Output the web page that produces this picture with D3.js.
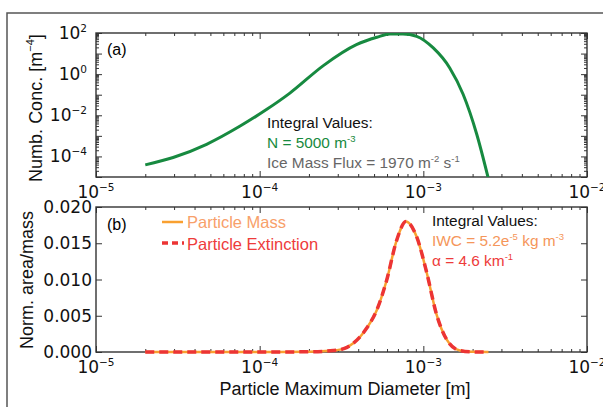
<!DOCTYPE html>
<html>
<head>
<meta charset="utf-8">
<script src="https://cdn.jsdelivr.net/npm/d3@7"></script>
<style>
  body { margin: 0; background: #fff; }
  svg { display: block; }
</style>
</head>
<body>
<svg id="fig" width="603" height="407"></svg>
<script>
"use strict";
// panel (a): number concentration vs diameter
var diamA = [2e-5, 2.96e-5, 4.74e-5, 7.6e-5, 1.1e-4, 1.53e-4, 2.45e-4, 3.9e-4, 5.2e-4, 6.25e-4, 7.5e-4, 9.1e-4, 1.15e-3, 1.45e-3, 1.75e-3, 2.12e-3, 2.5e-3];
var numConc = [3.9e-5, 8.9e-5, 3.9e-4, 3.0e-3, 0.019, 0.12, 2.6, 27, 62, 90, 90, 69, 18.8, 2.0, 0.105, 1.2e-3, 8e-6];
// panel (b): normalised mass and extinction
var diamB = [2e-5, 5e-5, 1e-4, 2e-4, 2.82e-4, 3.3e-4, 3.73e-4, 4.51e-4, 5.2e-4, 5.97e-4, 6.87e-4, 7.83e-4, 9.1e-4, 1.05e-3, 1.2e-3, 1.39e-3, 1.67e-3, 2e-3, 2.5e-3];
var massFrac = [0, 0, 0, 0.00003, 0.0002, 0.0005, 0.0012, 0.0033, 0.0058, 0.0099, 0.0154, 0.018, 0.0159, 0.0109, 0.0053, 0.0017, 0.0002, 0.00002, 0];
var extFrac = [0, 0, 0, 0.00003, 0.0002, 0.0005, 0.0012, 0.0033, 0.0058, 0.0099, 0.0154, 0.018, 0.0159, 0.0109, 0.0053, 0.0017, 0.0002, 0.00002, 0];
var xMajor = [1e-5, 1e-4, 1e-3, 1e-2];
var yMajorA = [1e-5, 1e-4, 1e-3, 1e-2, 1e-1, 1, 10, 100];
var yLabelA = [-4, -2, 0, 2];
var yTicksB = [0, 0.005, 0.01, 0.015, 0.02];
var yLabelsB = ["0.000", "0.005", "0.010", "0.015", "0.020"];

var svg = d3.select("#fig");
var tickFont = "DejaVu Sans, sans-serif";
var textFont = "Liberation Sans, Arial, sans-serif";
var spine = "#333";

var left = 96, right = 587;
var topA = 33, botA = 177, topB = 207, botB = 352;

var x = d3.scaleLog().domain([1e-5, 1e-2]).range([left, right]);
var yA = d3.scaleLog().domain([1e-5, 1e2]).range([botA, topA]);
var yB = d3.scaleLinear().domain([0, 0.02]).range([botB, topB]);

function minorsOf(majors) {
    var out = [];
    for (var i = 0; i < majors.length - 1; i++) {
        for (var k = 2; k <= 9; k++) out.push(majors[i] * k);
    }
    return out;
}

// text made of plain and superscript pieces
function rich(sel, parts, fs) {
    var up = false;
    parts.forEach(function (p) {
        var t = sel.append("tspan").text(p[0]);
        if (p[1]) {
            t.attr("font-size", fs * 0.62).attr("dy", -fs * 0.42);
            up = true;
        } else if (up) {
            t.attr("dy", fs * 0.42);
            up = false;
        }
    });
    return sel;
}

function ticks(g, axisFn, scale, vals, len) {
    var a = axisFn(scale).tickValues(vals).tickSize(-len).tickFormat("");
    var gg = g.append("g").call(a);
    gg.select(".domain").remove();
    gg.selectAll("line").attr("stroke", spine).attr("stroke-width", 1);
    return gg;
}

function panel(top, bot, yScale, yMaj, yMin) {
    var g = svg.append("g");
    var h = bot - top;
    var xMin = minorsOf(xMajor);
    ticks(g.append("g").attr("transform", "translate(0," + bot + ")"), d3.axisBottom, x, xMajor, 6);
    ticks(g.append("g").attr("transform", "translate(0," + bot + ")"), d3.axisBottom, x, xMin, 3);
    ticks(g.append("g").attr("transform", "translate(0," + top + ")"), d3.axisTop, x, xMajor, 6);
    ticks(g.append("g").attr("transform", "translate(0," + top + ")"), d3.axisTop, x, xMin, 3);
    ticks(g.append("g").attr("transform", "translate(" + left + ",0)"), d3.axisLeft, yScale, yMaj, 6);
    ticks(g.append("g").attr("transform", "translate(" + right + ",0)"), d3.axisRight, yScale, yMaj, 6);
    if (yMin) {
        ticks(g.append("g").attr("transform", "translate(" + left + ",0)"), d3.axisLeft, yScale, yMin, 3);
        ticks(g.append("g").attr("transform", "translate(" + right + ",0)"), d3.axisRight, yScale, yMin, 3);
    }
    g.append("rect").attr("x", left).attr("y", top).attr("width", right - left).attr("height", h)
        .attr("fill", "none").attr("stroke", spine).attr("stroke-width", 1.4);
    // x tick labels
    xMajor.forEach(function (v) {
        var t = g.append("text").attr("x", x(v)).attr("y", bot + 21)
            .attr("text-anchor", "middle").attr("font-family", tickFont).attr("font-size", 17).attr("fill", "#111");
        rich(t, [["10"], ["\u2212" + Math.round(-Math.log10(v)), true]], 17);
    });
    return g;
}

// outer frame
svg.append("path").attr("d", "M7,407V13H603").attr("fill", "none").attr("stroke", "#555").attr("stroke-width", 1.5);

// ---- panel (a)
var gA = panel(topA, botA, yA, yMajorA, minorsOf(yMajorA));
yLabelA.forEach(function (e) {
    var t = gA.append("text").attr("x", 87).attr("y", yA(Math.pow(10, e)) + 6)
        .attr("text-anchor", "end").attr("font-family", tickFont).attr("font-size", 17).attr("fill", "#111");
    rich(t, [["10"], [(e < 0 ? "\u2212" : "") + Math.abs(e), true]], 17);
});
svg.append("clipPath").attr("id", "clipA").append("rect")
    .attr("x", left).attr("y", topA).attr("width", right - left).attr("height", botA - topA);
var lineA = d3.line().x(function (d, i) { return x(diamA[i]); })
    .y(function (d) { return yA(d); }).curve(d3.curveMonotoneX);
gA.append("path").attr("d", lineA(numConc)).attr("clip-path", "url(#clipA)")
    .attr("fill", "none").attr("stroke", "#178a40").attr("stroke-width", 3);

gA.append("text").attr("x", 107).attr("y", 55).attr("font-family", textFont).attr("font-size", 16).text("(a)");
gA.append("text").attr("x", 267).attr("y", 128).attr("font-family", textFont).attr("font-size", 15.4).attr("fill", "#111").text("Integral Values:");
rich(gA.append("text").attr("x", 267).attr("y", 148).attr("font-family", textFont).attr("font-size", 15.4).attr("fill", "#178a40"),
    [["N = 5000 m"], ["-3", true]], 15.4);
rich(gA.append("text").attr("x", 267).attr("y", 168).attr("font-family", textFont).attr("font-size", 15.4).attr("fill", "#666"),
    [["Ice Mass Flux = 1970 m"], ["-2", true], [" s"], ["-1", true]], 15.4);
rich(svg.append("text").attr("transform", "translate(42,108) rotate(-90)").attr("text-anchor", "middle")
    .attr("font-family", textFont).attr("font-size", 18).attr("fill", "#111"),
    [["Numb. Conc. [m"], ["\u22124", true], ["]"]], 18);

// ---- panel (b)
var gB = panel(topB, botB, yB, yTicksB, null);
yTicksB.forEach(function (v, i) {
    gB.append("text").attr("x", 92).attr("y", yB(v) + 6).attr("text-anchor", "end")
        .attr("font-family", tickFont).attr("font-size", 17).attr("fill", "#111").text(yLabelsB[i]);
});
var lineB = d3.line().x(function (d, i) { return x(diamB[i]); })
    .y(function (d) { return yB(d); }).curve(d3.curveMonotoneX);
gB.append("path").attr("d", lineB(massFrac)).attr("fill", "none").attr("stroke", "#f9a030").attr("stroke-width", 2.5);
gB.append("path").attr("d", lineB(extFrac)).attr("fill", "none").attr("stroke", "#ec3434")
    .attr("stroke-width", 3.5).attr("stroke-dasharray", "9,5");

gB.append("text").attr("x", 107).attr("y", 230).attr("font-family", textFont).attr("font-size", 16).text("(b)");
// legend
gB.append("line").attr("x1", 162).attr("x2", 183).attr("y1", 222).attr("y2", 222).attr("stroke", "#f9a030").attr("stroke-width", 2.5);
gB.append("line").attr("x1", 162).attr("x2", 184).attr("y1", 243).attr("y2", 243).attr("stroke", "#ec3434")
    .attr("stroke-width", 3.5).attr("stroke-dasharray", "6,4");
gB.append("text").attr("x", 187).attr("y", 228).attr("font-family", textFont).attr("font-size", 16.5).attr("fill", "#f8a06a").text("Particle Mass");
gB.append("text").attr("x", 187).attr("y", 250).attr("font-family", textFont).attr("font-size", 16.5).attr("fill", "#ee3b3b").text("Particle Extinction");

gB.append("text").attr("x", 432).attr("y", 226).attr("font-family", textFont).attr("font-size", 15.4).attr("fill", "#111").text("Integral Values:");
rich(gB.append("text").attr("x", 432).attr("y", 246).attr("font-family", textFont).attr("font-size", 15.4).attr("fill", "#f5965a"),
    [["IWC = 5.2e"], ["-5", true], [" kg m"], ["-3", true]], 15.4);
rich(gB.append("text").attr("x", 432).attr("y", 266).attr("font-family", textFont).attr("font-size", 15.4).attr("fill", "#ee3b3b"),
    [["\u03b1 = 4.6 km"], ["-1", true]], 15.4);

rich(svg.append("text").attr("transform", "translate(33,280) rotate(-90)").attr("text-anchor", "middle")
    .attr("font-family", textFont).attr("font-size", 18).attr("fill", "#111"),
    [["Norm. area/mass"]], 18);
svg.append("text").attr("x", 345).attr("y", 395).attr("text-anchor", "middle")
    .attr("font-family", textFont).attr("font-size", 18).attr("fill", "#111").text("Particle Maximum Diameter [m]");
</script>
</body>
</html>
